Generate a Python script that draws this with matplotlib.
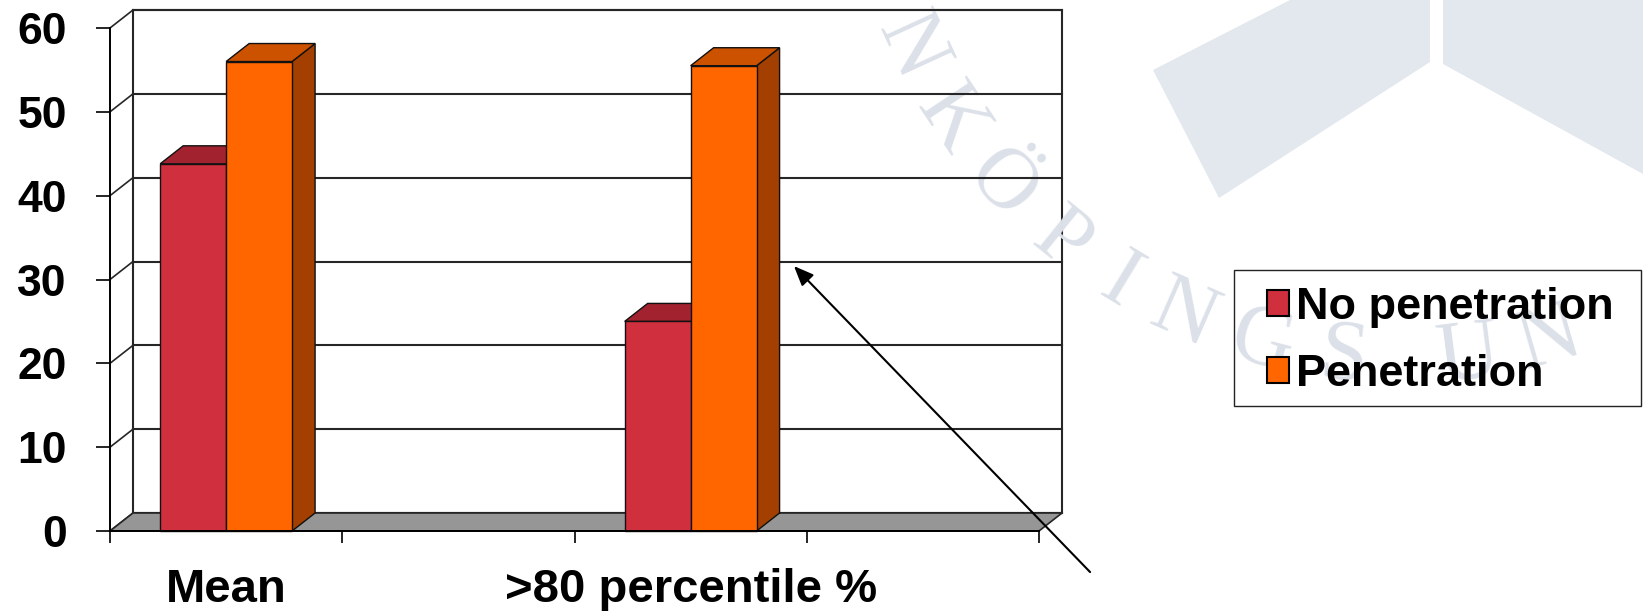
import numpy as np
import matplotlib
matplotlib.use("Agg")
from matplotlib import pyplot as plt
from matplotlib import rcParams
from matplotlib.patches import Polygon, Rectangle, Patch

rcParams["font.family"] = ["Liberation Sans", "DejaVu Sans"]
rcParams["font.weight"] = "bold"

# chart data
categories = ["Mean", "", ">80 percentile %", ""]
no_penetration = [43.8, np.nan, 25.0, np.nan]
penetration = [56.0, np.nan, 55.5, np.nan]
series_names = ["No penetration", "Penetration"]
y_ticks = [0, 10, 20, 30, 40, 50, 60]

# callout arrow (data units)
ARROW_TIP = (2.945, 31.6)
ARROW_TAIL = (4.22, -4.9)

W, H = 1643, 611
DPI = 100
DEPTH_PX = (23, 18)          # 3-D depth offset of walls and bars
BAR_W = 0.284                # width of a single bar, in category units

RED = dict(front="#D02F3D", top="#A32230", side="#8E1B27")
ORANGE = dict(front="#FF6600", top="#CC5200", side="#A33F00")
WALL_EDGE = "#262626"
WATERMARK = "#E3E8EF"
WATERMARK_TEXT = "#DCE1E9"


def draw_bar(ax, x0, h, colors, dx, dy):
    kw = dict(edgecolor="#111111", linewidth=1.0, joinstyle="miter",
              clip_on=False, zorder=3)
    x1 = x0 + BAR_W
    ax.add_patch(Polygon([(x1, 0), (x1 + dx, dy), (x1 + dx, h + dy), (x1, h)],
                         facecolor=colors["side"], **kw))
    ax.add_patch(Polygon([(x0, h), (x1, h), (x1 + dx, h + dy), (x0 + dx, h + dy)],
                         facecolor=colors["top"], **kw))
    ax.add_patch(Rectangle((x0, 0), BAR_W, h, facecolor=colors["front"], **kw))


def plot():
    fig = plt.figure(figsize=(W / DPI, H / DPI), dpi=DPI)

    # slide background with the pale university logo
    bg = fig.add_axes([0, 0, 1, 1], zorder=0)
    bg.set_xlim(0, W)
    bg.set_ylim(H, 0)
    bg.axis("off")
    bg.add_patch(Polygon([(1153, 70), (1290, 0), (1430, 0), (1430, 62), (1219, 198)],
                         facecolor=WATERMARK, edgecolor="none"))
    bg.add_patch(Polygon([(1443, 0), (W, 0), (W, 174), (1443, 64)],
                         facecolor=WATERMARK, edgecolor="none"))

    ax = fig.add_axes([110 / W, (H - 531) / H, 929 / W, 503 / H], zorder=1)
    ax.patch.set_visible(False)
    n = len(categories)
    ax.set_xlim(0, n)
    ax.set_ylim(y_ticks[0], y_ticks[-1])

    # depth offset converted to data units
    dx = DEPTH_PX[0] * n / 929
    dy = DEPTH_PX[1] * (y_ticks[-1] - y_ticks[0]) / 503

    # back wall, floor and side-wall grid
    ax.add_patch(Rectangle((dx, dy), n, y_ticks[-1], facecolor="white",
                           edgecolor=WALL_EDGE, linewidth=1.5, clip_on=False, zorder=0.5))
    for v in y_ticks:
        ax.plot([dx, n + dx], [v + dy, v + dy], color=WALL_EDGE, lw=1.5,
                clip_on=False, zorder=1)
        ax.plot([0, dx], [v, v + dy], color=WALL_EDGE, lw=1.2,
                clip_on=False, zorder=1)
    ax.add_patch(Polygon([(0, 0), (n, 0), (n + dx, dy), (dx, dy)], facecolor="#969696",
                         edgecolor=WALL_EDGE, linewidth=1.2, clip_on=False, zorder=1.5))

    # watermark lettering arched round the logo (only the letters on the slide)
    word = "LINKÖPINGS UNIVERSITET"
    cx, cy, r = 1400, -178, 540
    theta = 175.0
    for ch in word:
        step = 4.5 if ch == " " else (6.5 if ch == "I" else 8.8)
        theta -= step / 2
        t = np.radians(theta)
        px, py = cx + r * np.cos(t), cy + r * np.sin(t)
        rot = np.degrees(np.arctan2(np.cos(t), np.sin(t)))
        if ch != " " and 45 < px < W - 45 and 45 < py < H - 45:
            ax.text(px, py, ch, transform=bg.transData, fontsize=62,
                    family="Liberation Serif", fontweight="normal",
                    color=WATERMARK_TEXT, ha="center", va="center",
                    rotation=rot, rotation_mode="anchor", clip_on=False, zorder=0.8)
        theta -= step / 2

    # bars, one cluster per category
    for i in range(n):
        c = i + 0.5
        if not np.isnan(no_penetration[i]):
            draw_bar(ax, c - BAR_W, no_penetration[i], RED, dx, dy)
        if not np.isnan(penetration[i]):
            draw_bar(ax, c, penetration[i], ORANGE, dx, dy)

    # axes
    for side in ["top", "right"]:
        ax.spines[side].set_visible(False)
    for side in ["left", "bottom"]:
        ax.spines[side].set_color("black")
        ax.spines[side].set_linewidth(1.4)
        ax.spines[side].set_zorder(4)
    ax.set_yticks(y_ticks)
    ax.tick_params(axis="y", direction="out", length=10, width=1.2,
                   labelsize=32, pad=21)
    ax.set_xticks(np.arange(n + 1))
    ax.set_xticklabels([])
    ax.tick_params(axis="x", which="major", direction="out", length=8.5, width=1.2)
    ax.set_xticks(np.arange(n) + 0.5, minor=True)
    ax.set_xticklabels(categories, minor=True)
    ax.tick_params(axis="x", which="minor", length=0, labelsize=34, pad=27)
    for lab in ax.get_xticklabels(minor=True) + ax.get_yticklabels():
        lab.set_fontweight("bold")

    ax.annotate("", xy=ARROW_TIP, xytext=ARROW_TAIL, annotation_clip=False,
                arrowprops=dict(arrowstyle="-|>,head_length=0.6,head_width=0.25",
                                color="black", lw=1.5, shrinkA=0, shrinkB=0,
                                mutation_scale=20), zorder=5)

    # legend with a hand-drawn box
    handles = [Patch(facecolor=RED["front"], edgecolor="black", linewidth=1.5),
               Patch(facecolor=ORANGE["front"], edgecolor="black", linewidth=1.5)]
    fig.legend(handles, series_names, loc="center",
               bbox_to_anchor=(1440 / W, 1 - 341 / H), frameon=False,
               prop=dict(size=32.5, weight="bold"), handlelength=0.5, handleheight=0.5,
               handletextpad=0.15, labelspacing=0.58, borderpad=0)
    bg.add_patch(Rectangle((1234, 270), 407, 136, facecolor="none",
                           edgecolor="#222222", linewidth=1.0, zorder=5))

    fig.savefig("out.png", dpi=DPI)


def main():
    plot()


if __name__ == "__main__":
    main()
